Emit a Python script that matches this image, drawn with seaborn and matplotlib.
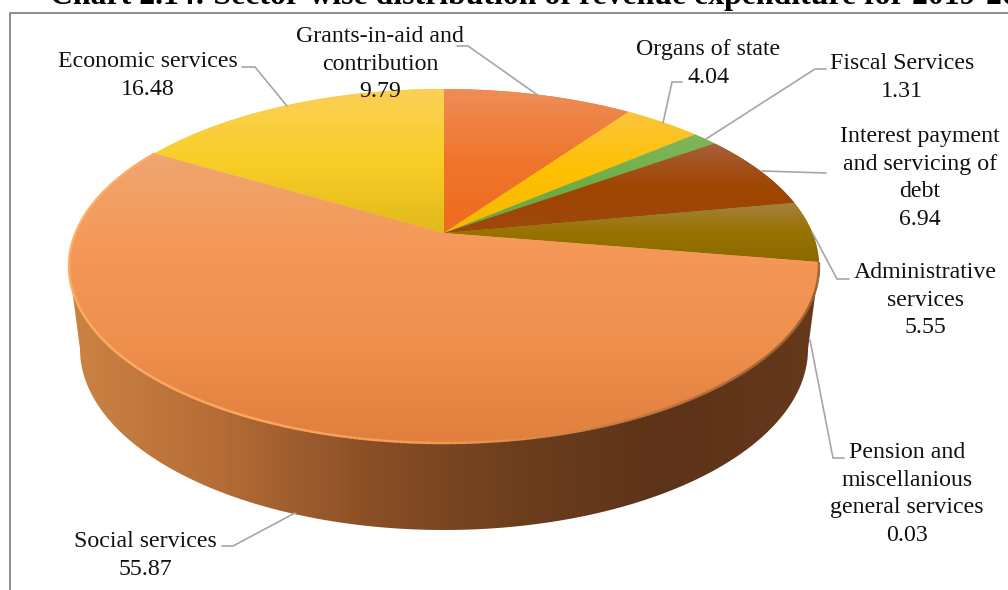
import numpy as np
import seaborn as sns
import matplotlib
matplotlib.use("Agg")
import matplotlib.pyplot as plt
from matplotlib.collections import LineCollection
from matplotlib.patches import Polygon

# Slices, clockwise from 12 o'clock
categories = [
    ["Grants-in-aid and", "contribution"],
    ["Organs of state"],
    ["Fiscal Services"],
    ["Interest payment", "and servicing of", "debt"],
    ["Administrative", "services"],
    ["Pension and", "miscellanious", "general services"],
    ["Social services"],
    ["Economic services"],
]
values = [9.79, 4.04, 1.31, 6.94, 5.55, 0.03, 55.87, 16.48]

# Gradient of each slice top, upper edge to lower edge
slice_colors = [
    ["#EE8D58", "#F0752B", "#EE6C1E"],
    ["#FAC53C", "#FFC000", "#F4B800"],
    ["#80B65C", "#70AD47", "#6AA542"],
    ["#A85F3A", "#9E4500", "#9E480E"],
    ["#A4823F", "#997300", "#8C6900"],
    ["#F49858", "#F49858", "#F49858"],
    ["#EFA670", "#F59857", "#EE8F4E", "#E07F3E"],
    ["#FBD056", "#F9CE28", "#E2B91C"],
]
wall_colors = ["#CC8444", "#B56C36", "#8A4F26", "#6C3E1E", "#5C3319", "#66391C"]

# Label anchor (centre x, first baseline y) and leader line of each slice
label_pos = [(380, 42), (708, 55), (902, 69), (920, 142), (925, 278), (907, 458), (145, 547), (148, 67)]
leaders = [
    [(457, 46), (468, 46), (539, 96)],
    [(682, 82), (672, 82), (663, 123)],
    [(826, 69), (815, 69), (706, 139)],
    [(826, 173), (762, 171)],
    [(849, 279), (837, 279), (812, 232)],
    [(844, 458), (833, 458), (810, 340)],
    [(222, 546), (233, 546), (295, 513)],
    [(242, 67), (255, 67), (287, 106)],
]

title = "Chart 2.14: Sector-wise distribution of revenue expenditure for 2019-20"

# Pie geometry in pixels: top ellipse, bottom ellipse, apex shift from perspective
cx, cy, rx, ry = 444, 266, 375, 177
by, brx, bry = 349, 364, 181
e = 33 / ry


def project(theta):
    # circle angle (clockwise from top) to screen point, keeps straight rays straight
    d = 1 + e * np.cos(theta)
    u = np.sin(theta) * np.sqrt(1 - e ** 2) / d
    v = (np.cos(theta) + e) / d
    return cx + rx * u, cy - ry * v


sns.set_theme(style="white")
plt.rcParams["font.family"] = ["Liberation Serif", "DejaVu Serif"]

fig = plt.figure(figsize=(10.08, 5.9), dpi=100)
ax = fig.add_axes([0, 0, 1, 1])
ramp = np.linspace(0, 1, 256)

# Side wall
t = np.linspace(0, np.pi, 200)
wall_xy = [(cx - rx, cy)] + list(zip(cx - brx * np.cos(t), by + bry * np.sin(t))) + [(cx + rx, cy)]
wall_patch = Polygon(wall_xy, closed=True, transform=ax.transData, fc="none", ec="none")
ax.add_patch(wall_patch)
wall_img = ax.imshow(ramp[None, :], cmap=sns.blend_palette(wall_colors, as_cmap=True),
                     extent=(cx - rx, cx + rx, by + bry, cy), aspect="auto", zorder=1)
wall_img.set_clip_path(wall_patch)

# Slice tops
edges = np.cumsum([0] + values) / sum(values) * 2 * np.pi
apex = (cx, cy - ry * e)
for i in range(len(values)):
    th = np.linspace(edges[i], edges[i + 1], max(3, int((edges[i + 1] - edges[i]) * 120)))
    arc_x, arc_y = project(th)
    pts = [apex] + list(zip(arc_x, arc_y))
    patch = Polygon(pts, closed=True, transform=ax.transData, fc=slice_colors[i][1], ec="none", zorder=2)
    ax.add_patch(patch)
    xs = [p[0] for p in pts]
    ys = [p[1] for p in pts]
    img = ax.imshow(ramp[:, None], cmap=sns.blend_palette(slice_colors[i], as_cmap=True),
                    extent=(min(xs), max(xs), max(ys), min(ys)), aspect="auto", zorder=3)
    img.set_clip_path(patch)

# Bright rim along the front edge of the big slice
th = np.linspace(edges[6], edges[7], 300)
rim_x, rim_y = project(th)
rim_pts = np.column_stack([rim_x, rim_y])
segs = np.stack([rim_pts[:-1], rim_pts[1:]], axis=1)
rim_cmap = sns.blend_palette(["#FFAC62", "#FFA85E", "#F59A52", "#C47A40", "#9A5F30"], as_cmap=True)
ax.add_collection(LineCollection(segs, colors=rim_cmap((rim_x[:-1] - cx + rx) / (2 * rx)), linewidth=1.8, zorder=4))

# Leader lines
for line in leaders:
    xs, ys = zip(*line)
    ax.plot(xs, ys, color="#A6A6A6", lw=1.2, zorder=5, solid_joinstyle="miter")

# Labels, one text per line
for lines, val, (x, y) in zip(categories, values, label_pos):
    for j, txt in enumerate(lines + [f"{val:.2f}"]):
        ax.text(x, y + j * 27.6, txt, ha="center", va="baseline", fontsize=17.2, color="#111111", zorder=6)

# Chart frame, cut by the image on the right and at the bottom
ax.plot([10, 10, 1008], [590, 13, 13], color="#8C8C8C", lw=1.4, zorder=1)

# The title sits partly above the image, as in the reference
ax.text(50, 4, title, ha="left", va="baseline", fontsize=22.9, fontweight="bold", color="black", zorder=6)

ax.set_xlim(0, 1008)
ax.set_ylim(590, 0)
ax.axis("off")

fig.savefig("out.png", dpi=100)
